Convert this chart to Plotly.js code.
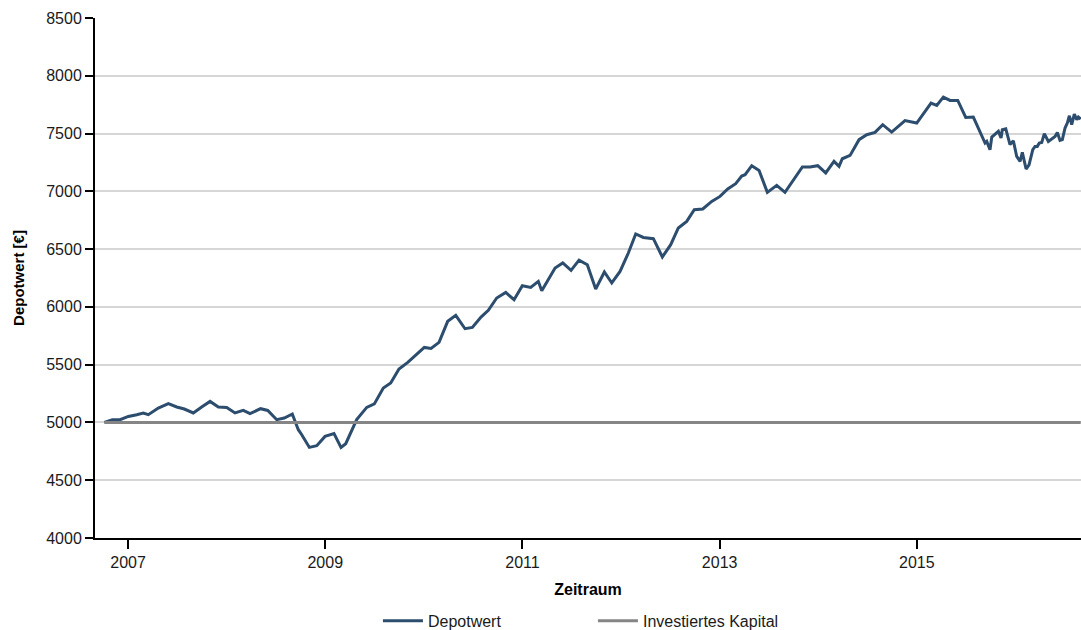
<!DOCTYPE html>
<html>
<head>
<meta charset="utf-8">
<script src="https://cdn.plot.ly/plotly-3.0.1.min.js"></script>
<style>
  html, body { margin: 0; padding: 0; background: #ffffff; }
  #chart { width: 1081px; height: 630px; }
</style>
</head>
<body>
<div id="chart"></div>
<script>
// Zeitpunkte als Dezimaljahre
const depotDates = [
  2006.760, 2006.841, 2006.919, 2007.003, 2007.088, 2007.155, 2007.206, 2007.307,
  2007.409, 2007.494, 2007.571, 2007.662, 2007.747, 2007.832, 2007.916, 2008.001,
  2008.085, 2008.169, 2008.237, 2008.344, 2008.417, 2008.508, 2008.585, 2008.666,
  2008.727, 2008.762, 2008.839, 2008.914, 2008.998, 2009.089, 2009.160, 2009.208,
  2009.319, 2009.421, 2009.498, 2009.589, 2009.664, 2009.748, 2009.837, 2009.928,
  2010.005, 2010.073, 2010.154, 2010.242, 2010.324, 2010.418, 2010.492, 2010.580,
  2010.654, 2010.739, 2010.831, 2010.915, 2010.999, 2011.084, 2011.161, 2011.196,
  2011.257, 2011.331, 2011.409, 2011.493, 2011.574, 2011.658, 2011.743, 2011.831,
  2011.906, 2011.990, 2012.074, 2012.149, 2012.226, 2012.328, 2012.419, 2012.504,
  2012.581, 2012.666, 2012.743, 2012.829, 2012.920, 2013.004, 2013.082, 2013.163,
  2013.224, 2013.258, 2013.326, 2013.400, 2013.484, 2013.579, 2013.663, 2013.748,
  2013.839, 2013.917, 2013.995, 2014.076, 2014.160, 2014.211, 2014.244, 2014.323,
  2014.414, 2014.492, 2014.576, 2014.654, 2014.745, 2014.880, 2014.999, 2015.144,
  2015.202, 2015.269, 2015.337, 2015.415, 2015.496, 2015.573, 2015.641, 2015.692,
  2015.709, 2015.742, 2015.760, 2015.810, 2015.827, 2015.854, 2015.867, 2015.902,
  2015.945, 2015.979, 2016.013, 2016.047, 2016.070, 2016.108, 2016.138, 2016.176,
  2016.199, 2016.222, 2016.242, 2016.267, 2016.293, 2016.334, 2016.368, 2016.402,
  2016.425, 2016.452, 2016.476, 2016.503, 2016.526, 2016.547, 2016.571, 2016.597,
  2016.622, 2016.638, 2016.662
];

// Depotwert in Euro
const depotValues = [
  5000, 5024, 5024, 5052, 5067, 5082, 5067, 5125,
  5162, 5134, 5116, 5082, 5134, 5182, 5134, 5130,
  5082, 5104, 5076, 5119, 5104, 5024, 5038, 5073,
  4937, 4894, 4784, 4799, 4879, 4903, 4784, 4816,
  5024, 5130, 5160, 5298, 5341, 5463, 5520, 5592,
  5649, 5641, 5693, 5875, 5927, 5811, 5822, 5912,
  5970, 6077, 6125, 6062, 6183, 6169, 6221, 6140,
  6235, 6337, 6380, 6316, 6405, 6365, 6155, 6302,
  6207, 6307, 6466, 6631, 6601, 6590, 6432, 6538,
  6683, 6740, 6841, 6847, 6913, 6956, 7020, 7066,
  7132, 7144, 7222, 7181, 6991, 7052, 6991, 7095,
  7211, 7211, 7222, 7159, 7259, 7216, 7282, 7311,
  7447, 7490, 7510, 7577, 7513, 7612, 7591, 7764,
  7744, 7816, 7787, 7787, 7640, 7643, 7519, 7418,
  7432, 7360, 7470, 7510, 7519, 7461, 7533, 7541,
  7404, 7438, 7302, 7259, 7337, 7193, 7230, 7360,
  7389, 7389, 7418, 7423, 7499, 7432, 7453, 7475,
  7510, 7441, 7447, 7548, 7591, 7654, 7577, 7669,
  7620, 7643, 7625
];

// Investiertes Kapital (Einmalanlage)
const investedDates = [2006.760, 2016.662];
const investedValues = [5000, 5000];

const yearTicks = [2007, 2009, 2011, 2013, 2015];
const yearLabels = ['2007', '2009', '2011', '2013', '2015'];

const FONT = 'Liberation Sans, Arial, Helvetica, sans-serif';

const traces = [
  {
    name: 'Depotwert',
    x: depotDates,
    y: depotValues,
    type: 'scatter',
    mode: 'lines',
    line: { color: '#2c4d6e', width: 3 }
  },
  {
    name: 'Investiertes Kapital',
    x: investedDates,
    y: investedValues,
    type: 'scatter',
    mode: 'lines',
    line: { color: '#858585', width: 3 }
  }
];

const layout = {
  width: 1081,
  height: 630,
  margin: { l: 95, r: 0, t: 18, b: 92, autoexpand: false },
  paper_bgcolor: '#ffffff',
  plot_bgcolor: '#ffffff',
  font: { family: FONT, size: 16, color: '#1a1a1a' },
  showlegend: true,
  legend: {
    orientation: 'h',
    x: 0.505,
    xanchor: 'center',
    xref: 'paper',
    yref: 'container',
    y: 0.0145,
    yanchor: 'middle',
    font: { family: FONT, size: 16, color: '#1a1a1a' },
    itemwidth: 40,
    entrywidth: 160
  },
  xaxis: {
    range: [2006.665, 2016.665],
    automargin: false,
    tickvals: yearTicks,
    ticktext: yearLabels,
    showgrid: false,
    zeroline: false,
    showline: true,
    linecolor: '#000000',
    linewidth: 2,
    ticks: 'outside',
    ticklen: 9,
    tickwidth: 2,
    tickcolor: '#000000',
    tickfont: { family: FONT, size: 16, color: '#1a1a1a' },
    title: {
      text: 'Zeitraum',
      font: { family: FONT, size: 16, color: '#000000', weight: 'bold' },
      standoff: 14
    }
  },
  yaxis: {
    range: [4000, 8500],
    automargin: false,
    dtick: 500,
    tick0: 4000,
    showgrid: true,
    gridcolor: '#d6d6d6',
    gridwidth: 1.5,
    zeroline: false,
    showline: true,
    linecolor: '#000000',
    linewidth: 2,
    ticks: 'outside',
    ticklen: 8,
    tickwidth: 2,
    tickcolor: '#000000',
    tickfont: { family: FONT, size: 16, color: '#1a1a1a' },
    title: {
      text: 'Depotwert [€]',
      font: { family: FONT, size: 15, color: '#000000', weight: 'bold' },
      standoff: 18
    }
  }
};

Plotly.newPlot('chart', traces, layout, { displayModeBar: false, responsive: false });
</script>
</body>
</html>
